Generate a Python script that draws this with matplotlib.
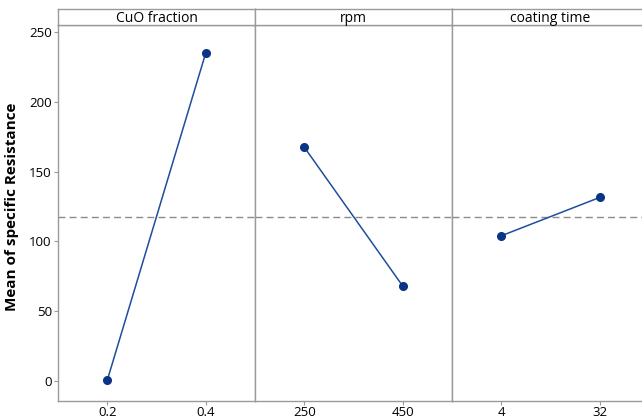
import matplotlib
matplotlib.use("Agg")
import matplotlib.pyplot as plt

# factors and their level means
factors = ["CuO fraction", "rpm", "coating time"]
levels = [["0.2", "0.4"], ["250", "450"], ["4", "32"]]
means = [[0.5, 235.0], [167.5, 68.0], [104.0, 131.5]]
grand_mean = 117.8
y_ticks = [0, 50, 100, 150, 200, 250]

plt.rcParams['font.family'] = ['Open Sans', 'DejaVu Sans']

LINE_COL = '#1f4e9c'
DOT_COL = '#0b3484'
FRAME_COL = '#9a9a9a'

fig = plt.figure(figsize=(6.42, 4.19), dpi=100)

W, H = 642, 419
left_px, panel_w = 58, 197
bottom_px, top_px, strip_top_px = 400.7, 25, 9

for i, fac in enumerate(factors):
    x0 = (left_px + i * panel_w) / W
    ax = fig.add_axes([x0, 1 - bottom_px / H, panel_w / W, (bottom_px - top_px) / H])
    xs = list(range(len(levels[i])))
    ax.plot(xs, means[i], color=LINE_COL, lw=1.1, zorder=3)
    ax.plot(xs, means[i], 'o', color=DOT_COL, ms=5.5, zorder=4)
    ax.axhline(grand_mean, color='#8c8c8c', ls=(0, (5, 3)), lw=1.0, zorder=2)
    ax.set_xlim(-0.5, 1.5)
    ax.set_ylim(-14.1, 255.0)
    ax.set_xticks(xs)
    ax.set_xticklabels(levels[i], fontsize=9.5)
    for s in ax.spines.values():
        s.set_color(FRAME_COL)
        s.set_linewidth(1.0)
    ax.tick_params(axis='x', length=3, color=FRAME_COL, pad=1)
    if i == 0:
        ax.set_yticks(y_ticks)
        ax.tick_params(axis='y', length=3, color=FRAME_COL, labelsize=9.5, pad=1.5)
        ax.set_ylabel("Mean of specific Resistance", fontsize=11, fontweight='bold', labelpad=5)
        ax.yaxis.set_label_coords(-0.2, 0.515)
    else:
        ax.set_yticks([])

    # header strip
    sx = fig.add_axes([x0, 1 - top_px / H, panel_w / W, (top_px - strip_top_px) / H])
    sx.set_xticks([])
    sx.set_yticks([])
    for s in sx.spines.values():
        s.set_color(FRAME_COL)
        s.set_linewidth(1.0)
    sx.text(0.5, 0.42, fac, ha='center', va='center', fontsize=10, transform=sx.transAxes)

fig.savefig("out.png", dpi=100)
